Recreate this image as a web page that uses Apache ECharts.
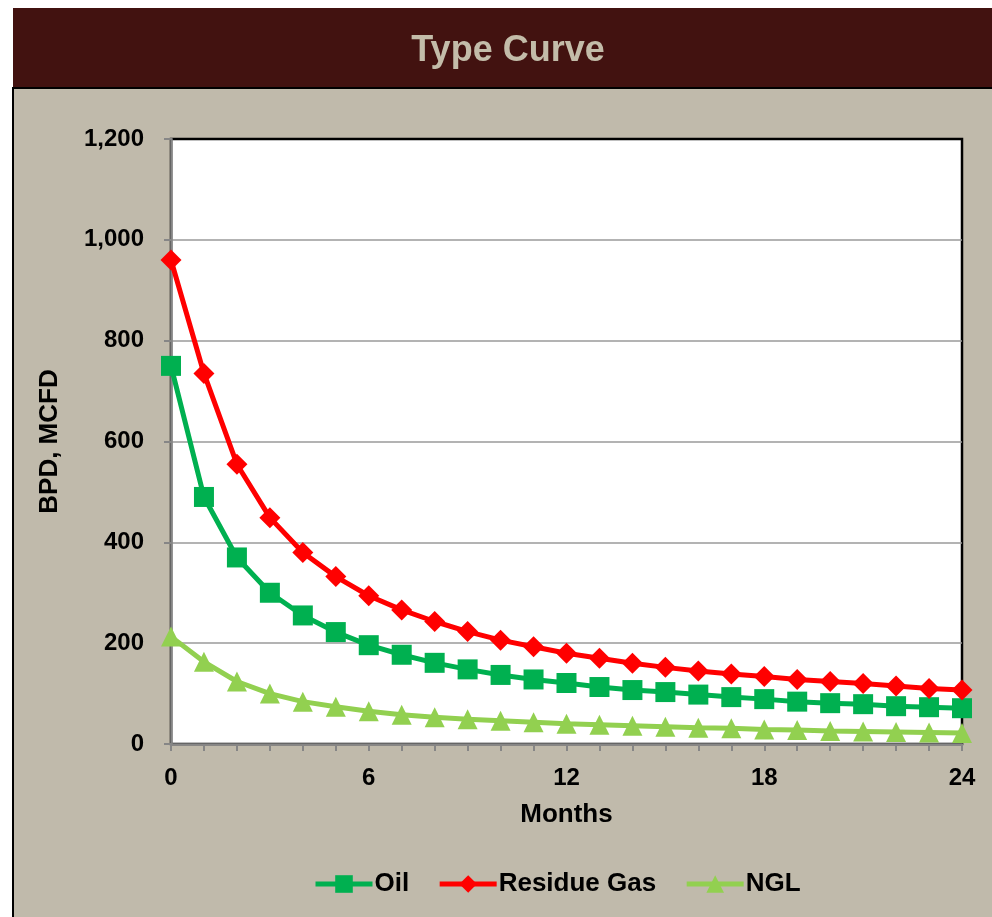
<!DOCTYPE html>
<html>
<head>
<meta charset="utf-8">
<script src="https://cdn.jsdelivr.net/npm/echarts@6/dist/echarts.min.js"></script>
<style>
  html, body { margin: 0; padding: 0; background: #ffffff; }
  #chart { width: 992px; height: 917px; }
</style>
</head>
<body>
<div id="chart"></div>
<script>
const months = [0, 1, 2, 3, 4, 5, 6, 7, 8, 9, 10, 11, 12, 13, 14, 15, 16, 17, 18, 19, 20, 21, 22, 23, 24];
const oil = [750, 490, 370, 300, 255, 222, 196, 177, 161, 148, 137, 128, 121, 113, 107, 103, 98, 93, 89, 84, 81, 79, 75, 73, 71];
const residueGas = [960, 735, 555, 449, 380, 332, 294, 266, 243, 223, 206, 193, 180, 170, 160, 152, 145, 139, 134, 128, 124, 120, 115, 110, 107];
const ngl = [213, 163, 124, 100, 84, 74, 65, 58, 53, 49, 46, 43, 40, 38, 36, 34, 32, 31, 29, 28, 26, 25, 24, 23, 22];
const xTicks = [0, 6, 12, 18, 24];
const yTicks = [0, 200, 400, 600, 800, 1000, 1200];

const pairs = (vals) => months.map((m, i) => [m, vals[i]]);
const FONT = 'Liberation Sans, Arial, sans-serif';

const chart = echarts.init(document.getElementById('chart'), null, { renderer: 'canvas' });
chart.setOption({
  animation: false,
  backgroundColor: '#ffffff',
  graphic: [
    { type: 'rect', z: -10, shape: { x: 13, y: 8, width: 979, height: 80 }, style: { fill: '#421210' } },
    { type: 'rect', z: -10, shape: { x: 13, y: 88, width: 985, height: 840 }, style: { fill: '#c0baab', stroke: '#000000', lineWidth: 2 } },
    { type: 'text', z: 10, x: 508, y: 51, style: { text: 'Type Curve', fill: '#c3bca9', font: 'bold 36px ' + FONT, textAlign: 'center', textVerticalAlign: 'middle' } }
  ],
  grid: {
    left: 171, top: 139, width: 791, height: 605,
    show: true, backgroundColor: '#ffffff', borderColor: '#000000', borderWidth: 2.5
  },
  legend: {
    left: 308, top: 866,
    itemWidth: 57, itemHeight: 22, itemGap: 28,
    lineStyle: { width: 5 },
    textStyle: { fontFamily: FONT, fontWeight: 'bold', fontSize: 26, color: '#000000', padding: [0, 0, 0, -3] },
    data: ['Oil', 'Residue Gas', 'NGL']
  },
  xAxis: {
    type: 'value', min: 0, max: 24, interval: 6,
    name: 'Months', nameLocation: 'middle', nameGap: 58,
    nameTextStyle: { fontFamily: FONT, fontWeight: 'bold', fontSize: 26, color: '#000000' },
    axisLine: { show: true, onZero: false, lineStyle: { color: '#868686', width: 2.5 } },
    axisTick: { show: true, inside: false, length: 7, lineStyle: { color: '#868686', width: 2 } },
    minorTick: { show: true, splitNumber: 6, length: 7, lineStyle: { color: '#868686', width: 2 } },
    splitLine: { show: false },
    axisLabel: { margin: 22, fontFamily: FONT, fontWeight: 'bold', fontSize: 24, color: '#000000',
      formatter: (v) => xTicks.includes(v) ? String(v) : '' }
  },
  yAxis: {
    type: 'value', min: 0, max: 1200, interval: 200,
    name: 'BPD, MCFD', nameLocation: 'middle', nameGap: 108, nameRotate: 90,
    nameTextStyle: { fontFamily: FONT, fontWeight: 'bold', fontSize: 26, color: '#000000' },
    axisLine: { show: true, lineStyle: { color: '#868686', width: 2.5 } },
    axisTick: { show: true, inside: false, length: 7, lineStyle: { color: '#868686', width: 2 } },
    splitLine: { show: true, showMaxLine: false, showMinLine: false, lineStyle: { color: '#9a9a9a', width: 1.5 } },
    axisLabel: { margin: 27, fontFamily: FONT, fontWeight: 'bold', fontSize: 24, color: '#000000',
      formatter: (v) => yTicks.includes(v) ? v.toLocaleString('en-US') : '' }
  },
  series: [
    { name: 'Oil', type: 'line', data: pairs(oil), symbol: 'rect', symbolSize: 20,
      lineStyle: { color: '#00b050', width: 5 }, itemStyle: { color: '#00b050' }, z: 3 },
    { name: 'Residue Gas', type: 'line', data: pairs(residueGas), symbol: 'diamond', symbolSize: 21,
      lineStyle: { color: '#ff0000', width: 5 }, itemStyle: { color: '#ff0000' }, z: 3 },
    { name: 'NGL', type: 'line', data: pairs(ngl), symbol: 'triangle', symbolSize: 20,
      lineStyle: { color: '#92d050', width: 5 }, itemStyle: { color: '#92d050' }, z: 3 }
  ]
});
</script>
</body>
</html>
